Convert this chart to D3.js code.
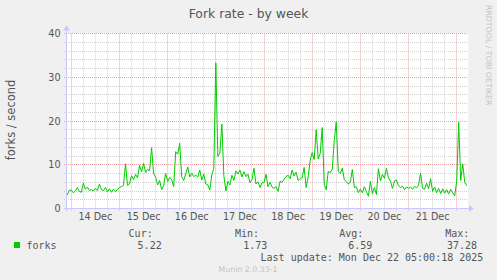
<!DOCTYPE html>
<html>
<head>
<meta charset="utf-8">
<script src="https://cdn.jsdelivr.net/npm/d3@7"></script>
<style>
  html, body { margin: 0; padding: 0; background: #f0f0f0; }
  svg { display: block; }
</style>
</head>
<body>
<div id="chart"></div>
<script>
// hourly samples, first one at Dec 13 22:00 UTC
const startTime = Date.UTC(2025, 11, 13, 22);
const forkValues = [
  3.1, 4.2,
  4.2, 3.6, 4.0, 4.8, 3.9, 3.7, 5.8, 4.4, 4.9, 4.2, 4.3, 4.0, 4.6, 4.1, 5.6, 4.3, 4.1, 4.8, 3.8, 4.5, 3.7, 4.4, 3.9, 4.3,
  4.8, 5.0, 5.3, 10.2, 5.3, 5.6, 7.5, 6.6, 7.8, 7.0, 9.9, 8.4, 10.3, 8.2, 9.0, 8.6, 13.9, 8.0, 7.2, 5.4, 6.4, 4.3, 5.2, 8.0,
  6.2, 7.1, 6.6, 5.0, 13.0, 12.4, 14.9, 7.3, 6.4, 7.9, 9.5, 7.2, 8.0, 7.3, 7.6, 7.2, 8.8, 6.5, 7.9, 5.6, 5.4, 4.2, 7.7, 9.2,
  33.3, 11.9, 12.6, 19.3, 7.5, 4.0, 6.2, 5.4, 7.6, 6.4, 8.6, 7.9, 8.8, 7.2, 8.4, 7.3, 7.9, 5.9, 6.6, 9.2, 5.6, 6.1, 4.8, 5.9,
  5.9, 7.8, 5.0, 6.0, 4.9, 4.6, 5.0, 3.9, 6.2, 6.0, 6.7, 7.3, 7.6, 6.8, 8.8, 7.4, 8.3, 6.4, 6.8, 7.0, 9.4, 4.8, 7.2, 11.0,
  12.8, 11.2, 18.0, 11.3, 12.6, 18.5, 5.5, 4.3, 8.5, 8.2, 9.0, 15.5, 19.8, 8.5, 8.0, 9.2, 6.6, 6.2, 5.6, 6.0, 8.9, 4.8, 5.0, 3.6,
  4.4, 3.6, 5.0, 3.9, 2.8, 6.2, 3.4, 4.8, 3.2, 9.1, 6.3, 7.8, 6.9, 9.2, 7.0, 6.3, 4.6, 6.3, 6.5, 5.2, 4.8, 5.1, 4.3, 4.9,
  4.6, 4.9, 4.4, 5.1, 4.7, 5.3, 8.1, 4.6, 4.4, 5.8, 4.5, 6.8, 3.9, 4.9, 3.6, 4.6, 3.4, 4.5, 3.5, 4.3, 3.3, 4.4, 3.6, 2.9,
  6.2, 19.7, 6.4, 10.2, 6.0, 5.2
];
const yTicks = [0, 10, 20, 30, 40];
const seriesName = 'forks';
const legendHeads = ['Cur:', 'Min:', 'Avg:', 'Max:'];
const legendValues = ['5.22', '1.73', '6.59', '37.28'];
const chartTitle = 'Fork rate - by week';
const yTitle = 'forks / second';
const lastUpdate = 'Last update: Mon Dec 22 05:00:18 2025';
const footer = 'Munin 2.0.33-1';
const sideText = 'RRDTOOL / TOBI OETIKER';

const width = 497, height = 280;
const plotLeft = 67, plotRight = 468, plotTop = 33.5, plotBottom = 208.5;
const axisColor = '#c8c8ff';
const textColor = '#555';
const sans = '"DejaVu Sans", sans-serif';
const mono = '"DejaVu Sans Mono", monospace';

const x = d3.scaleUtc()
    .domain([new Date(Date.UTC(2025, 11, 14)), new Date(Date.UTC(2025, 11, 22))])
    .range([71.3, 456.7]);
const y = d3.scaleLinear().domain([0, 40]).range([plotBottom, plotTop]);

const data = forkValues.map((v, i) => ({ t: new Date(startTime + i * 3600e3), v: v }));

const svg = d3.select('#chart')
    .append('svg')
    .attr('width', width)
    .attr('height', height);

svg.append('rect')
    .attr('width', width).attr('height', height)
    .attr('fill', '#f0f0f0');

svg.append('rect')
    .attr('x', plotLeft).attr('y', plotTop - 0.5)
    .attr('width', plotRight - plotLeft).attr('height', plotBottom - plotTop + 0.5)
    .attr('fill', 'white');

const t0 = x.invert(plotLeft), t1 = x.invert(plotRight);
const crisp = (v) => Math.floor(v) + 0.5;

// minor grid
const minorX = d3.utcHour.every(6).range(t0, t1).filter((d) => d.getUTCHours() !== 0);
const minorY = d3.range(2, 40, 2).filter((d) => d % 10 !== 0);
const grid = svg.append('g').attr('class', 'grid');

grid.selectAll('.minor-x')
    .data(minorX)
    .enter()
    .append('line')
    .attr('x1', (d) => crisp(x(d))).attr('x2', (d) => crisp(x(d)))
    .attr('y1', plotTop).attr('y2', plotBottom + 3)
    .attr('stroke', '#d0d0d0')
    .attr('stroke-dasharray', '1,1');

grid.selectAll('.minor-y')
    .data(minorY)
    .enter()
    .append('line')
    .attr('x1', plotLeft - 3).attr('x2', plotRight)
    .attr('y1', (d) => crisp(y(d))).attr('y2', (d) => crisp(y(d)))
    .attr('stroke', '#d0d0d0')
    .attr('stroke-dasharray', '1,1');

// major grid (days / tens)
const days = d3.utcDay.range(t0, t1);
grid.selectAll('.major-x')
    .data(days)
    .enter()
    .append('line')
    .attr('x1', (d) => crisp(x(d))).attr('x2', (d) => crisp(x(d)))
    .attr('y1', plotTop).attr('y2', plotBottom + 3)
    .attr('stroke', '#f0a0a0')
    .attr('stroke-dasharray', '1,1');

grid.selectAll('.major-y')
    .data(yTicks.filter((d) => d > 0))
    .enter()
    .append('line')
    .attr('x1', plotLeft - 3).attr('x2', plotRight)
    .attr('y1', (d) => crisp(y(d))).attr('y2', (d) => crisp(y(d)))
    .attr('stroke', '#f0a0a0')
    .attr('stroke-dasharray', '1,1');

// series
const line = d3.line()
    .x((d) => x(d.t))
    .y((d) => y(d.v));

svg.append('path')
    .datum(data)
    .attr('d', line)
    .attr('fill', 'none')
    .attr('stroke', '#00cc00')
    .attr('stroke-width', 1);

// axes with arrows
svg.append('line')
    .attr('x1', plotLeft - 3).attr('x2', plotRight + 2)
    .attr('y1', plotBottom).attr('y2', plotBottom)
    .attr('stroke', axisColor);
svg.append('path')
    .attr('d', `M${plotRight + 1},${plotBottom - 3.5}L${plotRight + 6},${plotBottom}L${plotRight + 1},${plotBottom + 3.5}Z`)
    .attr('fill', axisColor);

svg.append('line')
    .attr('x1', plotLeft - 0.5).attr('x2', plotLeft - 0.5)
    .attr('y1', plotBottom + 3).attr('y2', plotTop - 3)
    .attr('stroke', axisColor);
svg.append('path')
    .attr('d', `M${plotLeft - 4},${plotTop - 3}L${plotLeft - 0.5},${plotTop - 8.5}L${plotLeft + 3},${plotTop - 3}Z`)
    .attr('fill', axisColor);

// tick labels
svg.selectAll('.y-label')
    .data(yTicks)
    .enter()
    .append('text')
    .attr('x', 60.5)
    .attr('y', (d) => y(d) + 3.5)
    .attr('text-anchor', 'end')
    .attr('font-family', sans)
    .attr('font-size', '9.6px')
    .attr('fill', textColor)
    .text((d) => d);

const noons = days.map((d) => d3.utcHour.offset(d, 12)).filter((d) => d < t1);
svg.selectAll('.x-label')
    .data(noons)
    .enter()
    .append('text')
    .attr('x', (d) => x(d))
    .attr('y', 220)
    .attr('text-anchor', 'middle')
    .attr('font-family', sans)
    .attr('font-size', '9.6px')
    .attr('fill', textColor)
    .text(d3.utcFormat('%-d %b'));

// titles
svg.append('text')
    .attr('x', 248.5).attr('y', 18.3)
    .attr('text-anchor', 'middle')
    .attr('font-family', sans)
    .attr('font-size', '12.4px')
    .attr('fill', textColor)
    .text(chartTitle);

svg.append('text')
    .attr('transform', 'translate(15,120) rotate(-90)')
    .attr('text-anchor', 'middle')
    .attr('font-family', sans)
    .attr('font-size', '11.5px')
    .attr('fill', textColor)
    .text(yTitle);

svg.append('text')
    .attr('transform', 'translate(486,5) rotate(90)')
    .attr('font-family', sans)
    .attr('font-size', '7.8px')
    .attr('fill', '#c4c4c4')
    .text(sideText);

// legend
svg.append('rect')
    .attr('x', 14).attr('y', 242)
    .attr('width', 6).attr('height', 6)
    .attr('fill', '#00cc00');

svg.append('text')
    .attr('x', 26.5).attr('y', 249)
    .attr('font-family', mono)
    .attr('font-size', '10px')
    .attr('fill', textColor)
    .text(seriesName);

const headEnds = [152.7, 259, 363.3, 469.3];
const valueEnds = [161.7, 267.3, 372.3, 477];

svg.selectAll('.legend-head')
    .data(legendHeads)
    .enter()
    .append('text')
    .attr('x', (d, i) => headEnds[i])
    .attr('y', 236.7)
    .attr('text-anchor', 'end')
    .attr('font-family', mono)
    .attr('font-size', '10px')
    .attr('fill', textColor)
    .text((d) => d);

svg.selectAll('.legend-value')
    .data(legendValues)
    .enter()
    .append('text')
    .attr('x', (d, i) => valueEnds[i])
    .attr('y', 249)
    .attr('text-anchor', 'end')
    .attr('font-family', mono)
    .attr('font-size', '10px')
    .attr('fill', textColor)
    .text((d) => d);

svg.append('text')
    .attr('x', 483.3).attr('y', 260.5)
    .attr('text-anchor', 'end')
    .attr('font-family', mono)
    .attr('font-size', '10px')
    .attr('fill', textColor)
    .text(lastUpdate);

svg.append('text')
    .attr('x', 248).attr('y', 272)
    .attr('text-anchor', 'middle')
    .attr('font-family', sans)
    .attr('font-size', '7.8px')
    .attr('fill', '#c4c4c4')
    .text(footer);
</script>
</body>
</html>
